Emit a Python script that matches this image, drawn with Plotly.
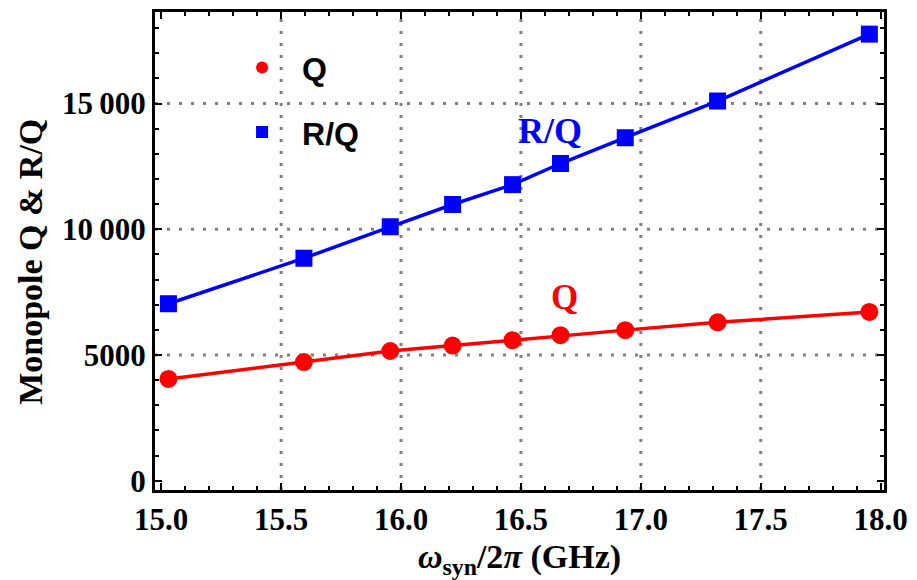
import plotly.graph_objects as go

freq = [15.03, 15.595, 15.955, 16.215, 16.465, 16.665, 16.935, 17.32, 17.953]
q_vals = [4050, 4720, 5160, 5375, 5590, 5790, 5990, 6300, 6715]
rq_vals = [7040, 8850, 10100, 10985, 11775, 12615, 13640, 15100, 17760]

x_ticks = [15.0, 15.5, 16.0, 16.5, 17.0, 17.5, 18.0]
x_ticktext = ["15.0", "15.5", "16.0", "16.5", "17.0", "17.5", "18.0"]
y_ticks = [0, 5000, 10000, 15000]
y_ticktext = ["0", "5000", "10\u2009000", "15\u2009000"]
x_grid = [15.5, 16.0, 16.5, 17.0, 17.5]
y_grid = [5000, 10000, 15000]

RED = "#FF0000"
BLUE = "#0000FF"
serif = "Liberation Serif, Times New Roman, serif"

fig = go.Figure()
fig.add_trace(go.Scatter(x=freq, y=q_vals, mode="lines+markers", showlegend=False,
                         line=dict(color=RED, width=3.5),
                         marker=dict(symbol="circle", size=18, color=RED)))
fig.add_trace(go.Scatter(x=freq, y=rq_vals, mode="lines+markers", showlegend=False,
                         line=dict(color=BLUE, width=3.5),
                         marker=dict(symbol="square", size=17, color=BLUE)))
# legend entries (marker only)
fig.add_trace(go.Scatter(x=[None], y=[None], mode="markers", name="Q", legendgroup="a",
                         marker=dict(symbol="circle", size=15, color=RED)))
fig.add_trace(go.Scatter(x=[None], y=[None], mode="markers", name="R/Q", legendgroup="b",
                         marker=dict(symbol="square", size=13, color=BLUE)))

fig.add_annotation(x=16.62, y=13900, text="<b>R/Q</b>", showarrow=False,
                   font=dict(family=serif, size=36, color=BLUE))
fig.add_annotation(x=16.68, y=7300, text="<b>Q</b>", showarrow=False,
                   font=dict(family=serif, size=35, color=RED))
# y-axis title
fig.add_annotation(xref="paper", yref="paper", x=-0.171, y=0.478, textangle=-90,
                   xanchor="center", yanchor="middle",
                   text="<b>Monopole Q &amp; R/Q</b>", showarrow=False,
                   font=dict(family=serif, size=34, color="black"))

for gx in x_grid:
    fig.add_shape(type="line", xref="x", yref="paper", x0=gx, x1=gx, y0=0, y1=1,
                  line=dict(color="#808080", width=3, dash="3px,9px"), layer="below")
for gy in y_grid:
    fig.add_shape(type="line", xref="paper", yref="y", x0=0, x1=1, y0=gy, y1=gy,
                  line=dict(color="#808080", width=3, dash="3px,9px"), layer="below")

tickfont = dict(family=serif, size=31, color="black", weight="bold")
axis_common = dict(showline=True, linecolor="black", linewidth=3, mirror="allticks",
                   ticks="inside", tickcolor="black", tickwidth=2, ticklen=7,
                   showgrid=False, zeroline=False)

fig.update_xaxes(range=[14.974, 18.014], tickmode="array", tickvals=x_ticks,
                 ticktext=x_ticktext, tickfont=tickfont,
                 minor=dict(dtick=0.1, ticks="inside", ticklen=4, tickwidth=2,
                            tickcolor="black", showgrid=False),
                 title=dict(text="<b><i>ω</i><sub>syn</sub>/2<i>π</i> (GHz)</b>",
                            font=dict(family=serif, size=34, color="black"), standoff=10),
                 **axis_common)
fig.update_yaxes(range=[-367, 18640], tickmode="array", tickvals=y_ticks,
                 ticktext=y_ticktext, tickfont=tickfont,
                 minor=dict(dtick=1000, ticks="inside", ticklen=4, tickwidth=2,
                            tickcolor="black", showgrid=False),
                 **axis_common)

fig.update_layout(
    width=917, height=580,
    margin=dict(l=155, r=29, t=9, b=89),
    font=dict(family=serif, color="black"),
    plot_bgcolor="white", paper_bgcolor="white",
    legend=dict(x=0.092, y=0.941, xanchor="left", yanchor="top",
                bgcolor="rgba(0,0,0,0)", tracegroupgap=20, itemwidth=70,
                font=dict(family="Liberation Sans", size=32, color="black", weight="bold"),
                itemsizing="constant"),
)

fig.write_html("out.html")
